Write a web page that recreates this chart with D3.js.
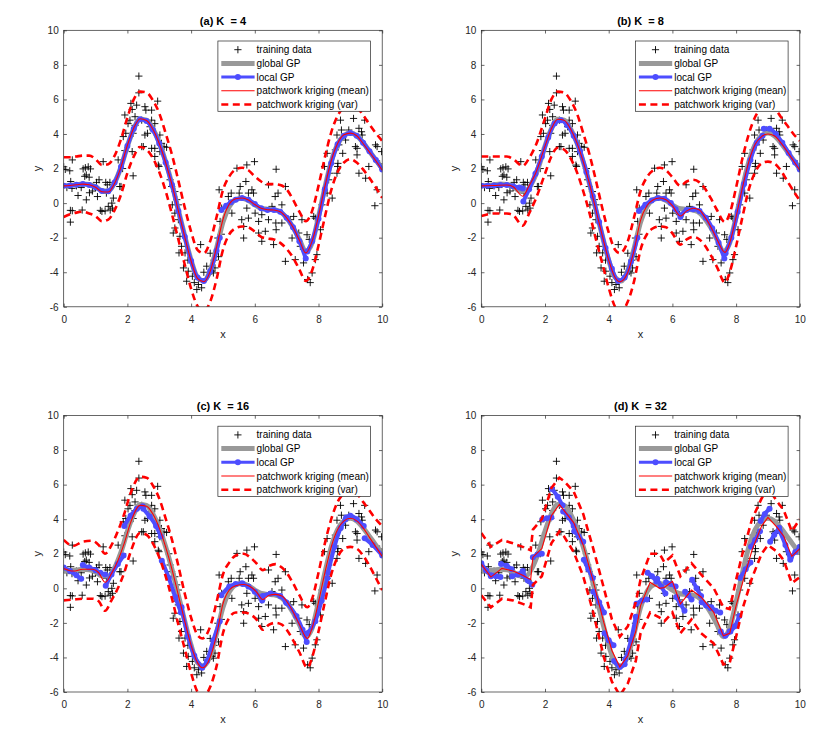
<!DOCTYPE html>
<html lang="en">
<head>
<meta charset="UTF-8">
<title>Patchwork kriging vs local GP</title>
<script src="https://cdnjs.cloudflare.com/ajax/libs/d3/7.8.5/d3.min.js"></script>
<style>
  body { margin: 0; background: #fff; }
  svg { font-family: "Liberation Sans", Arial, Helvetica, sans-serif; }
  .tick text { fill: #262626; font-size: 10px; }
  .tick line { stroke: #262626; stroke-width: 0.7; }
  .domain { display: none; }
</style>
</head>
<body>
<svg id="chart" width="830" height="751"></svg>
<script>
// ---- axis settings ----
const xTicks = [0, 2, 4, 6, 8, 10];
const yTicks = [-6, -4, -2, 0, 2, 4, 6, 8, 10];
const legendLabels = ["training data", "global GP", "local GP", "patchwork kriging (mean)", "patchwork kriging (var)"];
const titles = ["(a) K  = 4", "(b) K  = 8", "(c) K  = 16", "(d) K  = 32"];

// ---- training data (x, y), same in every panel ----
const trainData = [
  [0.00,2.10],[0.05,1.95],[0.19,1.87],[0.27,2.50],[0.22,1.25],[0.26,0.85],[0.10,0.90],[0.21,-0.42],[0.27,-0.44],[0.21,-1.10],
  [0.45,0.44],[0.58,-0.40],[0.61,1.98],[0.66,1.55],[0.71,1.63],[0.68,2.05],[0.77,2.10],[0.84,1.98],[0.80,1.50],[0.71,0.19],
  [0.81,0.60],[0.90,0.70],[1.03,1.20],[1.06,0.38],[1.11,1.35],[1.15,-0.42],[1.24,2.40],[1.20,-0.48],[1.32,1.20],[1.34,0.58],
  [1.30,-0.45],[1.40,-0.19],[1.37,1.06],[1.45,1.20],[1.51,0.00],[1.53,-0.29],[1.46,-0.40],[1.56,0.29],[1.71,2.50],[1.76,0.96],
  [1.85,2.00],[1.80,0.96],[0.40,1.00],[1.00,0.90],[0.55,0.90],
  [1.92,5.10],[1.95,4.04],[1.92,3.04],[1.87,3.85],[2.02,4.60],[2.11,5.77],[2.15,5.42],[2.24,5.00],[2.29,5.67],[2.36,7.35],
  [2.36,6.38],[2.18,4.04],[2.15,2.98],[2.18,1.58],[2.08,4.80],[2.24,4.50],[2.45,4.80],[2.45,3.27],[2.55,5.58],[2.58,5.38],
  [2.76,5.38],[2.76,4.80],[2.95,5.90],[2.55,3.94],[2.63,4.04],[2.50,3.27],[2.76,3.17],[2.86,3.17],[2.71,4.42],[2.86,4.60],
  [2.86,2.70],[2.97,2.20],[3.02,3.94],[3.07,3.46],[3.15,3.27],[3.23,3.23],[2.99,2.12],[3.02,2.98],[3.30,2.00],[3.34,1.35],
  [3.39,0.96],[3.49,0.67],[3.41,-0.10],[3.60,-0.10],[3.55,0.20],[3.49,-0.58],[3.60,-0.96],[3.44,-1.73],[3.49,-1.44],[3.65,-1.92],
  [3.70,-2.50],[3.62,-2.88],[3.81,-2.88],[3.76,-3.75],[3.91,-3.94],[3.90,-3.30],[3.86,-4.52],
  [4.04,-4.23],[4.10,-4.60],[4.18,-5.00],[4.23,-4.71],[4.33,-4.90],[4.30,-2.40],[4.40,-4.00],[4.49,-3.65],[4.60,-2.90],[4.65,-3.94],
  [4.70,-4.04],[4.75,-3.75],[4.72,-3.30],[4.86,-3.10],[4.84,-2.02],[4.95,-1.80],[4.88,0.77],[4.96,-0.29],[4.91,-1.06],
  [5.17,0.38],[5.26,0.58],[5.28,-0.58],[5.44,2.02],[5.51,0.58],[5.54,0.96],[5.59,-0.96],[5.65,-2.02],[5.65,-1.35],[5.75,2.21],
  [5.72,1.25],[5.80,0.58],[5.75,-0.29],[5.80,-0.87],[5.91,0.77],[5.96,0.58],[5.99,2.40],[6.01,-0.58],[6.12,-1.06],[6.22,-0.67],
  [6.12,-1.73],[6.22,-2.21],[6.33,-1.63],[6.43,1.06],[6.43,-0.96],[6.54,-0.19],[6.59,-2.40],[6.64,0.38],[6.67,1.96],[6.73,0.58],
  [6.66,-1.15],[6.67,-1.54],[6.85,-0.10],[6.85,-1.15],[6.96,-3.37],[6.96,0.96],[7.11,-0.96],[7.17,-2.02],[7.22,-0.77],[7.27,-3.27],
  [7.38,-1.73],[7.43,-2.50],[7.48,-0.96],[7.53,-3.46],[7.64,-1.83],[7.66,-4.42],[7.71,-2.10],[7.74,-4.60],[7.80,-4.04],[7.85,-0.77],
  [7.90,-0.87],[7.90,-3.27],[7.95,-2.98],[8.06,-1.54],[8.11,-0.10],[8.19,2.12],[8.27,2.88],[8.27,0.58],[8.32,1.35],[8.35,1.73],
  [8.43,0.29],[8.53,3.08],[8.58,3.94],[8.60,2.12],[8.61,2.30],[8.64,3.37],[8.58,1.73],[8.69,4.80],[8.72,4.23],[8.76,2.88],
  [8.85,3.65],[8.95,4.23],[9.10,4.90],[9.16,3.27],[9.21,3.17],[9.27,4.33],[9.35,4.13],[9.37,3.94],[9.21,2.79],[9.27,1.73],
  [9.48,1.44],[9.58,2.12],[9.79,3.37],[9.84,3.27],[9.84,0.77],[9.77,-0.15],[9.92,2.27],[9.98,2.98],[9.45,4.80]
];

// ---- global GP mean on a 0.2 grid ----
const gridX = [0,0.2,0.4,0.6,0.8,1.0,1.2,1.4,1.6,1.8,2.0,2.2,2.4,2.6,2.8,3.0,3.2,3.4,3.6,3.8,4.0,4.2,4.4,4.6,4.8,
  5.0,5.2,5.4,5.6,5.8,6.0,6.2,6.4,6.6,6.8,7.0,7.2,7.4,7.6,7.8,8.0,8.2,8.4,8.6,8.8,9.0,9.2,9.4,9.6,9.8,10];
const globalMean = [1.00,1.02,1.06,1.10,1.08,0.95,0.72,0.70,1.20,2.10,3.30,4.30,4.85,4.80,4.30,3.50,2.40,1.10,-0.40,-1.90,
  -3.30,-4.30,-4.50,-3.90,-2.60,-1.10,-0.20,0.20,0.28,0.15,-0.10,-0.30,-0.35,-0.38,-0.50,-0.85,-1.40,-2.10,-2.80,-2.30,
  -0.80,0.90,2.40,3.40,3.90,4.05,3.90,3.50,3.00,2.50,2.00];

// ---- (a) K = 4 ----
const pwMeanA = [1.00,1.02,1.06,1.10,1.06,0.92,0.66,0.64,1.15,2.10,3.35,4.35,4.88,4.78,4.28,3.45,2.35,1.05,-0.45,-1.95,
  -3.35,-4.35,-4.55,-3.95,-2.55,-0.95,-0.05,0.25,0.30,0.18,-0.08,-0.30,-0.38,-0.40,-0.50,-0.85,-1.40,-2.15,-2.88,-2.20,
  -0.75,0.95,2.45,3.45,3.95,4.05,3.90,3.45,2.95,2.45,1.90];
const pwUpA = [2.65,2.65,2.70,2.75,2.75,2.55,2.20,2.25,2.75,3.70,4.95,6.00,6.45,6.40,5.95,5.20,4.05,2.80,1.30,-0.25,
  -1.65,-2.70,-2.90,-2.20,-0.80,0.75,1.55,1.95,2.05,1.90,1.55,1.25,1.10,1.10,1.05,0.80,0.20,-0.50,-1.05,-0.45,
  1.00,2.65,4.10,5.05,5.55,5.70,5.55,5.10,4.55,4.05,3.60];
const pwLoA = [-0.80,-0.65,-0.55,-0.50,-0.60,-0.75,-1.05,-0.95,-0.40,0.50,1.75,2.70,3.25,3.10,2.60,1.80,0.70,-0.65,-2.10,-3.55,
  -4.95,-5.95,-6.25,-5.70,-4.40,-2.70,-1.80,-1.45,-1.35,-1.40,-1.65,-1.95,-2.05,-2.10,-2.30,-2.65,-3.15,-3.85,-4.50,-3.90,
  -2.45,-0.80,0.75,1.80,2.35,2.55,2.35,1.95,1.45,0.90,0.30];
const localA = [
  [[0,1.0],[0.2,1.02],[0.4,1.06],[0.6,1.1],[0.8,1.05],[1.0,0.92],[1.2,0.7],[1.4,0.68],[1.6,1.2],[1.8,2.1],[2.0,3.3],[2.2,4.3],
   [2.4,4.85],[2.6,4.75],[2.8,4.25],[3.0,3.45],[3.2,2.35],[3.4,1.05],[3.6,-0.45],[3.8,-1.95],[4.0,-3.35],[4.2,-4.3],[4.4,-4.5],
   [4.6,-3.95],[4.8,-2.75],[4.9,-2.0]],
  [[4.95,-0.4],[5.1,-0.15],[5.25,0.05],[5.4,0.2],[5.6,0.3],[5.8,0.2],[6.0,-0.05],[6.2,-0.3],[6.4,-0.4],[6.6,-0.4],[6.8,-0.5],
   [7.0,-0.85],[7.2,-1.4],[7.4,-2.2],[7.6,-3.2]],
  [[7.65,-2.8],[7.8,-2.2],[8.0,-0.9],[8.2,0.8],[8.4,2.3],[8.6,3.4],[8.8,3.9],[9.0,4.05],[9.2,3.9],[9.4,3.5],[9.6,3.0],
   [9.8,2.5],[10,1.95]]
];

// ---- (b) K = 8 ----
const pwXB = [0,0.4,0.8,1.0,1.3,1.5,1.7,2.0,2.2,2.4,2.6,2.8,3.0,3.2,3.4,3.6,3.8,4.0,4.2,4.35,4.6,4.8,5.0,5.2,5.4,5.6,5.8,
  6.0,6.25,6.45,6.65,6.85,7.0,7.2,7.4,7.65,7.8,8.0,8.2,8.4,8.6,8.8,9.0,9.2,9.4,9.6,9.8,10];
const pwMeanB = [1.0,1.02,1.05,0.95,0.4,1.0,1.7,3.3,4.3,4.85,4.8,4.3,3.5,2.4,1.1,-0.4,-1.9,-3.3,-4.3,-4.55,-4.0,-2.7,-1.0,
  -0.15,0.2,0.3,0.2,-0.15,-0.75,-0.45,-0.3,-0.4,-0.75,-1.35,-2.1,-2.85,-2.3,-0.8,0.9,2.4,3.4,3.85,4.0,3.9,3.5,3.0,2.45,1.9];
const pwUpB = [2.7,2.7,2.7,2.55,2.15,2.6,3.3,4.9,6.0,6.45,6.4,5.95,5.2,4.05,2.8,1.3,-0.3,-1.7,-2.7,-2.9,-2.2,-0.8,0.7,
  1.5,1.9,2.05,1.9,1.5,1.0,1.25,1.35,1.2,0.9,0.3,-0.4,-1.1,-0.6,0.9,2.6,4.0,5.0,5.5,5.65,5.5,5.0,4.5,4.0,3.6];
const pwLoB = [-0.75,-0.6,-0.6,-0.7,-1.3,-0.6,0.2,1.7,2.7,3.2,3.1,2.6,1.8,0.7,-0.6,-2.1,-3.5,-4.9,-6.0,-6.3,-5.7,-4.5,-2.7,
  -1.8,-1.45,-1.35,-1.4,-1.75,-2.4,-2.1,-1.95,-2.1,-2.4,-3.0,-3.7,-4.6,-4.0,-2.5,-0.8,0.8,1.8,2.3,2.4,2.3,1.9,1.3,0.7,0.15];
const localB = [
  [[0,1.0],[0.2,1.0],[0.4,1.02],[0.6,1.05],[0.8,1.05],[1.0,0.98],[1.2,0.9],[1.3,0.85]],
  [[1.32,0.1],[1.5,0.8],[1.7,1.7],[1.9,2.7],[2.1,3.8],[2.3,4.6],[2.5,4.8],[2.7,4.5],[2.9,3.9],[3.1,3.0],[3.3,1.8],[3.5,0.4],
   [3.7,-1.1],[3.9,-2.6],[4.1,-3.8],[4.3,-4.5],[4.5,-4.3],[4.7,-3.4],[4.9,-2.0]],
  [[4.95,-0.45],[5.15,-0.1],[5.35,0.15],[5.55,0.3],[5.75,0.25],[5.95,0.0],[6.1,-0.35],[6.25,-0.8]],
  [[6.27,-0.7],[6.45,-0.4],[6.65,-0.35],[6.85,-0.45],[7.05,-0.85],[7.25,-1.45],[7.45,-2.3],[7.63,-3.2]],
  [[7.67,-2.9],[7.85,-2.0],[8.05,-0.5],[8.25,1.1],[8.45,2.5],[8.65,3.5],[8.83,3.9]],
  [[8.87,4.3],[9.05,4.3],[9.25,4.0],[9.45,3.5],[9.65,2.9],[9.85,2.35],[10,1.95]]
];

// ---- (c) K = 16 ----
const pwXC = [0,0.3,0.6,0.9,1.1,1.3,1.5,1.7,1.9,2.1,2.4,2.6,2.8,3.0,3.2,3.4,3.6,3.8,4.0,4.2,4.35,4.6,4.8,5.0,5.2,5.4,
  5.65,5.85,6.05,6.25,6.45,6.65,6.85,7.0,7.2,7.4,7.65,7.8,8.0,8.2,8.4,8.6,8.8,9.0,9.2,9.4,9.6,9.8,10];
const pwMeanC = [1.15,1.0,1.1,1.1,0.9,0.35,0.85,1.6,2.6,3.8,4.8,4.75,4.3,3.5,2.4,1.1,-0.4,-1.9,-3.3,-4.3,-4.6,-4.0,-2.7,
  -0.9,-0.1,0.15,0.22,0.1,-0.2,-0.65,-0.4,-0.35,-0.45,-0.75,-1.35,-2.1,-2.9,-2.3,-0.8,0.9,2.4,3.4,3.9,4.05,3.9,3.5,2.95,2.4,1.85];
const pwUpC = [2.8,2.45,2.7,2.75,2.5,2.0,2.5,3.3,4.3,5.5,6.45,6.4,5.95,5.2,4.05,2.8,1.3,-0.3,-1.7,-2.7,-2.9,-2.2,-0.8,
  0.8,1.5,1.9,2.0,1.8,1.45,1.05,1.3,1.4,1.2,0.9,0.3,-0.4,-1.1,-0.6,0.9,2.6,4.0,5.0,5.5,5.7,5.5,5.0,4.5,4.0,3.6];
const pwLoC = [-0.7,-0.65,-0.6,-0.6,-0.75,-1.3,-0.7,0.0,0.9,2.1,3.2,3.1,2.6,1.8,0.7,-0.6,-2.1,-3.5,-4.9,-6.0,-6.3,-5.7,
  -4.5,-2.6,-1.7,-1.4,-1.4,-1.5,-1.8,-2.4,-2.1,-2.0,-2.1,-2.4,-3.0,-3.7,-4.6,-4.0,-2.5,-0.8,0.8,1.8,2.3,2.4,2.3,1.9,1.3,0.6,-0.1];
const localC = [
  [[0,1.2],[0.2,1.0],[0.4,0.75],[0.55,0.55]],
  [[0.6,1.35],[0.8,1.2],[1.0,1.05],[1.15,0.9],[1.3,0.8]],
  [[1.32,0.15],[1.5,0.8],[1.7,1.4],[1.88,1.9]],
  [[1.9,3.6],[2.1,4.2],[2.3,4.6],[2.48,4.75]],
  [[2.5,4.6],[2.7,4.15],[2.9,3.6],[3.05,3.0]],
  [[3.08,1.6],[3.3,0.6],[3.5,-0.5],[3.68,-1.4]],
  [[3.7,-1.1],[3.9,-2.8],[4.1,-3.9],[4.33,-4.55]],
  [[4.35,-4.6],[4.5,-4.2],[4.7,-3.0],[4.9,-1.9]],
  [[4.95,-0.4],[5.2,0.1],[5.4,0.25],[5.6,0.3]],
  [[5.62,0.25],[5.8,0.1],[6.0,-0.2],[6.23,-0.7]],
  [[6.25,-0.45],[6.5,-0.3],[6.8,-0.45],[6.98,-0.8]],
  [[7.0,-0.85],[7.3,-1.6],[7.5,-2.4],[7.63,-3.1]],
  [[7.65,-2.6],[7.9,-1.9],[8.1,-0.7],[8.28,0.6]],
  [[8.3,0.9],[8.5,2.4],[8.7,3.5],[8.85,4.0]],
  [[8.87,4.1],[9.0,4.2],[9.2,4.0],[9.42,3.6]],
  [[9.45,2.9],[9.7,2.5],[10,1.9]]
];

// ---- (d) K = 32 ----
const pwXD = [0,0.3,0.65,1.0,1.3,1.55,1.62,1.9,2.2,2.45,2.6,2.9,3.2,3.5,3.85,4.1,4.35,4.6,4.85,5.0,5.3,5.6,5.75,
  6.0,6.25,6.6,6.9,7.3,7.6,7.8,8.0,8.2,8.5,8.8,9.0,9.3,9.5,9.75,10];
const pwMeanD = [1.4,0.65,1.15,1.0,0.75,0.5,1.8,2.3,4.2,4.85,4.5,3.8,2.5,0.5,-2.0,-3.6,-4.55,-3.9,-2.5,-1.0,0.35,0.0,0.05,
  0.4,-0.9,-0.1,-0.5,-1.4,-2.75,-2.6,-1.0,0.3,2.2,3.6,4.1,3.5,3.0,1.85,2.3];
const pwUpD = [3.2,2.4,2.8,2.6,2.4,2.2,3.4,4.0,5.8,6.4,6.2,5.6,4.3,2.4,0.0,-1.8,-2.8,-2.2,-0.8,0.5,2.0,2.0,1.5,
  1.9,0.7,1.45,0.8,0.0,-1.1,-1.2,0.5,2.0,4.0,5.2,5.8,5.0,4.5,3.3,4.0];
const pwLoD = [-0.4,-1.1,-0.6,-0.7,-0.9,-1.1,0.2,0.7,2.6,3.3,3.0,2.1,0.7,-1.3,-4.0,-5.4,-6.2,-5.5,-4.2,-2.6,-1.4,-1.7,-1.9,
  -1.4,-2.6,-1.8,-2.6,-3.2,-4.4,-4.3,-2.8,-1.2,0.6,2.0,2.5,2.1,1.6,0.3,0.65];
const localD = [
  [[0,1.45],[0.15,1.05],[0.3,0.7]],
  [[0.32,0.75],[0.46,0.7],[0.6,0.65]],
  [[0.62,1.4],[0.8,1.3],[0.95,1.1]],
  [[0.97,0.7],[1.15,0.8],[1.3,1.0]],
  [[1.32,0.75],[1.46,0.45],[1.6,0.2]],
  [[1.62,1.8],[1.76,1.95],[1.9,2.0]],
  [[1.92,4.0],[2.06,4.05],[2.2,4.1]],
  [[2.22,5.75],[2.4,5.3],[2.55,4.8]],
  [[2.57,4.45],[2.75,4.1],[2.9,3.6]],
  [[2.92,3.3],[3.06,3.0],[3.2,2.7]],
  [[3.22,1.65],[3.36,1.1],[3.5,0.6]],
  [[3.52,-0.2],[3.7,-0.8],[3.85,-1.4]],
  [[3.87,-2.6],[4.0,-3.0],[4.15,-3.3]],
  [[4.17,-4.2],[4.35,-4.55],[4.5,-4.4]],
  [[4.52,-4.1],[4.7,-3.0],[4.85,-1.65]],
  [[4.87,-0.9],[5.05,-0.7],[5.2,-0.65]],
  [[5.22,0.9],[5.36,0.7],[5.5,0.4]],
  [[5.52,0.55],[5.65,0.1],[5.78,-0.3]],
  [[5.8,0.35],[5.95,0.25],[6.1,0.1]],
  [[6.12,-0.5],[6.25,-0.9],[6.38,-1.3]],
  [[6.4,-0.2],[6.5,-0.4],[6.6,-0.65]],
  [[6.62,0.5],[6.76,0.0],[6.9,-0.45]],
  [[6.92,-0.8],[7.06,-1.0],[7.2,-1.15]],
  [[7.22,-1.1],[7.36,-1.3],[7.5,-1.4]],
  [[7.52,-2.5],[7.66,-2.75],[7.8,-2.5]],
  [[7.82,-2.5],[7.96,-2.2],[8.1,-1.6]],
  [[8.12,0.6],[8.3,1.1],[8.45,1.5]],
  [[8.47,2.4],[8.6,2.8],[8.75,3.3]],
  [[8.77,3.9],[8.9,4.3],[9.05,4.6]],
  [[9.07,2.7],[9.2,3.1],[9.35,3.5]],
  [[9.37,3.3],[9.55,2.5],[9.7,1.65]],
  [[9.72,1.8],[9.86,2.1],[10,2.4]]
];

// ---- drawing ----
const svg = d3.select("#chart");
const W = 318.5, H = 276.5;
const GRAY = "#999999", BLUE = "#4d4dff", RED = "#ff0000", INK = "#262626";

const panels = [
  { left: 63.7,  top: 30.3,  local: localA, pwX: gridX, mean: pwMeanA, up: pwUpA, lo: pwLoA, curve: d3.curveMonotoneX },
  { left: 481.3, top: 30.3,  local: localB, pwX: pwXB,  mean: pwMeanB, up: pwUpB, lo: pwLoB, curve: d3.curveMonotoneX },
  { left: 63.7,  top: 415.5, local: localC, pwX: pwXC,  mean: pwMeanC, up: pwUpC, lo: pwLoC, curve: d3.curveMonotoneX },
  { left: 481.3, top: 415.5, local: localD, pwX: pwXD,  mean: pwMeanD, up: pwUpD, lo: pwLoD, curve: d3.curveLinear }
];

const defs = svg.append("defs");
const plusPath = (cx, cy, r) => `M${cx - r},${cy}H${cx + r}M${cx},${cy - r}V${cy + r}`;

panels.forEach((p, i) => {
  const x = d3.scaleLinear().domain([0, 10]).range([0, W]);
  const y = d3.scaleLinear().domain([-6, 10]).range([H, 0]);
  const g = svg.append("g").attr("transform", `translate(${p.left},${p.top})`);

  defs.append("clipPath").attr("id", "clip" + i)
    .append("rect").attr("width", W).attr("height", H);

  // axes with inward ticks on all four sides
  const fmt = d => String(d);
  g.append("g").attr("transform", `translate(0,${H})`)
    .call(d3.axisBottom(x).tickValues(xTicks).tickSize(-3.2).tickPadding(9).tickFormat(fmt));
  g.append("g")
    .call(d3.axisLeft(y).tickValues(yTicks).tickSize(-3.2).tickPadding(5).tickFormat(fmt));
  g.append("g")
    .call(d3.axisTop(x).tickValues(xTicks).tickSize(-3.2).tickFormat(""));
  g.append("g").attr("transform", `translate(${W},0)`)
    .call(d3.axisRight(y).tickValues(yTicks).tickSize(-3.2).tickFormat(""));

  const plot = g.append("g").attr("clip-path", `url(#clip${i})`);

  // training data
  plot.append("g").selectAll("path")
    .data(trainData)
    .join("path")
    .attr("d", d => plusPath(x(d[0]), y(d[1]), 3.6))
    .attr("stroke", "#000")
    .attr("stroke-width", 0.9)
    .attr("fill", "none");

  const smooth = d3.line().x(d => x(d[0])).y(d => y(d[1])).curve(d3.curveMonotoneX);
  const pwLine = d3.line().x(d => x(d[0])).y(d => y(d[1])).curve(p.curve);

  // global GP
  plot.append("path")
    .attr("d", smooth(gridX.map((v, k) => [v, globalMean[k]])))
    .attr("fill", "none").attr("stroke", GRAY).attr("stroke-width", 5);

  // local GP segments
  const loc = plot.append("g");
  p.local.forEach(seg => {
    loc.append("path")
      .attr("d", smooth(seg))
      .attr("fill", "none").attr("stroke", BLUE).attr("stroke-width", 4)
      .attr("stroke-linecap", "round");
    loc.selectAll(null).data(seg).join("circle")
      .attr("cx", d => x(d[0])).attr("cy", d => y(d[1])).attr("r", 3)
      .attr("fill", BLUE);
  });

  // patchwork kriging mean and variance band
  const pw = k => p.pwX.map((v, j) => [v, k[j]]);
  plot.append("path")
    .attr("d", pwLine(pw(p.mean)))
    .attr("fill", "none").attr("stroke", RED).attr("stroke-width", 1.1);
  [p.up, p.lo].forEach(arr => {
    plot.append("path")
      .attr("d", pwLine(pw(arr)))
      .attr("fill", "none").attr("stroke", RED).attr("stroke-width", 2.6)
      .attr("stroke-dasharray", "7,4.5");
  });

  // axes box
  g.append("rect").attr("width", W).attr("height", H)
    .attr("fill", "none").attr("stroke", INK).attr("stroke-width", 0.7);

  // title and axis labels
  g.append("text")
    .attr("x", W / 2).attr("y", -5.5)
    .attr("text-anchor", "middle")
    .style("white-space", "pre")
    .attr("font-size", 11).attr("font-weight", "bold").attr("fill", "#000")
    .text(titles[i]);
  g.append("text")
    .attr("x", W / 2).attr("y", H + 31)
    .attr("text-anchor", "middle").attr("font-size", 11).attr("fill", INK)
    .text("x");
  g.append("text")
    .attr("transform", `translate(-23,${H / 2}) rotate(-90)`)
    .attr("text-anchor", "middle").attr("font-size", 11).attr("fill", INK)
    .text("y");

  // legend
  const lg = g.append("g").attr("transform", `translate(${W - 11.7 - 152.6},10.7)`);
  lg.append("rect").attr("width", 152.6).attr("height", 70.3)
    .attr("fill", "#fff").attr("stroke", INK).attr("stroke-width", 0.7);
  legendLabels.forEach((lab, k) => {
    const ry = 8.7 + k * 13.7;
    const row = lg.append("g").attr("transform", `translate(0,${ry})`);
    if (k === 0) {
      row.append("path").attr("d", plusPath(20, 0, 3.6))
        .attr("stroke", "#000").attr("stroke-width", 0.9);
    } else {
      const ln = row.append("line").attr("x1", 3.4).attr("x2", 36.7).attr("y1", 0).attr("y2", 0);
      if (k === 1) ln.attr("stroke", GRAY).attr("stroke-width", 5);
      if (k === 2) {
        ln.attr("stroke", BLUE).attr("stroke-width", 3);
        row.append("circle").attr("cx", 20).attr("cy", 0).attr("r", 3).attr("fill", BLUE);
      }
      if (k === 3) ln.attr("stroke", RED).attr("stroke-width", 1.1);
      if (k === 4) ln.attr("stroke", RED).attr("stroke-width", 2.6).attr("stroke-dasharray", "7,4.5");
    }
    row.append("text").attr("x", 38.7).attr("dy", "0.35em")
      .attr("font-size", 10).attr("fill", "#000").text(lab);
  });
});
</script>
</body>
</html>
